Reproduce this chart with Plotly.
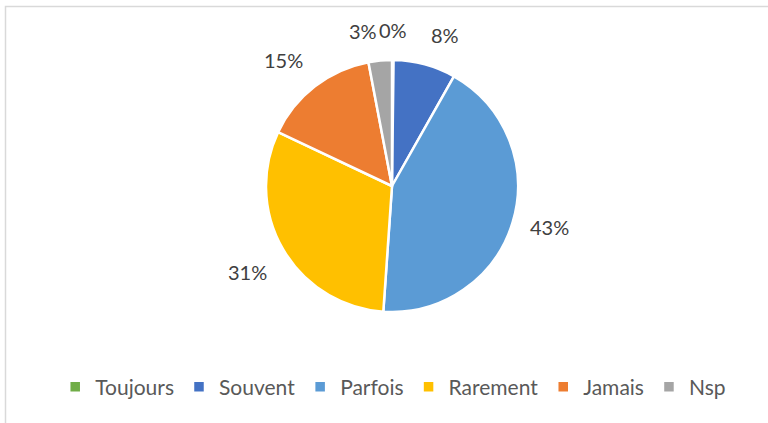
import math
import plotly.graph_objects as go

categories = ["Toujours", "Souvent", "Parfois", "Rarement", "Jamais", "Nsp"]
values = [0.2, 8, 43, 31, 15, 3]
colors = ["#70AD47", "#4472C4", "#5B9BD5", "#FFC000", "#ED7D31", "#A5A5A5"]

W, H = 768, 423
CX, CY, R = 392, 186, 126  # pie centre and radius in pixels (layout)
GAP = 16
FS = 20

fig = go.Figure(go.Pie(
    labels=categories, values=values, sort=False, direction="clockwise", rotation=0,
    marker=dict(colors=colors, line=dict(color="white", width=2.5)),
    textinfo="none",
    domain=dict(x=[(CX - 200) / W, (CX + 200) / W], y=[1 - (CY + R) / H, 1 - (CY - R) / H]),
    hoverinfo="label+percent",
))

# data labels placed outside the pie (outside-end), derived from the values
total = sum(values)
cum = 0.0
for v in values:
    mid = (cum + v / 2) / total * 2 * math.pi
    cum += v
    s, c = math.sin(mid), math.cos(mid)
    pct = f"{round(v / total * 100)}%"
    d = R + GAP
    px, py = CX + d * s, CY - d * c
    xa = "left" if s > 0.05 else ("right" if s < -0.05 else "center")
    ya = "bottom" if c > 0.5 else ("top" if c < -0.5 else "middle")
    fig.add_annotation(x=px / W, y=1 - py / H, xref="paper", yref="paper", text=pct,
                       showarrow=False, xanchor=xa, yanchor=ya,
                       font=dict(family="Lato", size=FS, color="#404040"))

fig.update_layout(
    width=W, height=H, margin=dict(l=0, r=0, t=0, b=0),
    paper_bgcolor="white", plot_bgcolor="white",
    showlegend=True,
    legend=dict(orientation="h", x=0.512, xanchor="center", y=1 - 387 / H, yanchor="middle",
                font=dict(family="Lato", size=21, color="#595959"), itemwidth=30,
                traceorder="normal"),
    shapes=[dict(type="rect", xref="paper", yref="paper", x0=5.5 / W, x1=1.02,
                 y0=-0.02, y1=1 - 6.5 / H, line=dict(color="#D9D9D9", width=1.5))],
)
fig.write_html("out.html", post_script="document.body.style.margin='0';",
               config={"displayModeBar": False})
